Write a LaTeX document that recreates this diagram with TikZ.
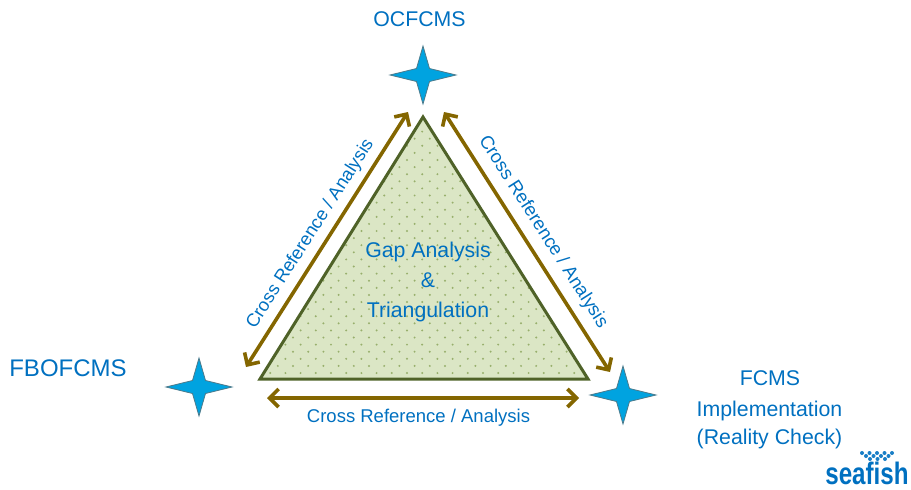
\documentclass[tikz,border=0pt]{standalone}
\usepackage{fontspec}
\setmainfont{Liberation Sans}
\usetikzlibrary{arrows.meta}
\definecolor{txtblue}{HTML}{0070C0}
\definecolor{starblue}{HTML}{00A3E0}
\definecolor{arrowbrown}{HTML}{846600}
\definecolor{triline}{HTML}{4F6228}
\definecolor{trifill}{HTML}{DBE6C5}
\definecolor{tridot}{HTML}{98AF6C}
\newcommand{\fourstar}[1]{%
  \path[starshape,shift={(#1)}] (0,-29) -- (6.5,-6.5) -- (33,0) -- (6.5,6.5) -- (0,29) -- (-6.5,6.5) -- (-33,0) -- (-6.5,-6.5) -- cycle;}
\tikzset{
  starshape/.style={fill=starblue,draw=black!60!starblue!70!white,line width=0.8pt,line join=miter},
  lbl/.style={text=txtblue,font=\fontsize{21.3}{25}\selectfont,inner sep=0pt,anchor=center},
  xref/.style={text=txtblue,font=\fontsize{18.6}{23}\selectfont,inner sep=0pt,anchor=center},
  dbl/.style={draw=arrowbrown,line width=3.6pt,{Straight Barb[length=9pt,width=18pt,line width=3.6pt]}-{Straight Barb[length=9pt,width=18pt,line width=3.6pt]}},
}
\begin{document}
\begin{tikzpicture}[x=1pt,y=-1pt]
\useasboundingbox (0,0) rectangle (911,490);
% triangle
\coordinate (apex) at (423,117);
\coordinate (bl) at (260,379);
\coordinate (br) at (588,379);
\fill[trifill] (apex) -- (br) -- (bl) -- cycle;
\begin{scope}
  \clip (apex) -- (br) -- (bl) -- cycle;
  \foreach \r in {0,...,37}{
    \pgfmathsetmacro{\yy}{373-7.1*\r}
    \pgfmathsetmacro{\off}{mod(\r,2)*7.6}
    \foreach \c in {0,...,22}{
      \fill[tridot] ({255+\off+15.2*\c},\yy) circle (1.1pt);
    }
  }
\end{scope}
\draw[triline,line width=3pt,line join=miter] (apex) -- (br) -- (bl) -- cycle;
% stars
\fourstar{423,75}
\fourstar{199,387}
\fourstar{623,395}
% arrow ends
\coordinate (a1) at (408,112);
\coordinate (a2) at (246,367);
\coordinate (b1) at (444,112);
\coordinate (b2) at (610,372);
\coordinate (c1) at (267,398);
\coordinate (c2) at (579,398);
\draw[dbl] (a1) -- (a2);
\draw[dbl] (b1) -- (b2);
\draw[dbl] (c1) -- (c2);
% texts
\node[lbl] (top) at (419.5,19) {OCFCMS};
\node[lbl,font=\fontsize{24}{25}\selectfont] (left) at (68,368) {FBOFCMS};
\node[lbl] (r1) at (770,378) {FCMS};
\node[lbl] (r2) at (769.5,411) {Implementation};
\node[lbl] (r3) at (769.5,439) {(Reality Check)};
\node[lbl] (g1) at (428,252) {Gap Analysis};
\node[lbl] (g2) at (428,280) {\&};
\node[lbl] (g3) at (428,312) {Triangulation};
\node[xref,rotate=57.4,font=\fontsize{18.3}{23}\selectfont] (x1) at (310.5,234) {Cross Reference / Analysis};
\node[xref,rotate=-57.4] (x2) at (543,232) {Cross Reference / Analysis};
\node[xref,font=\fontsize{18.5}{22}\selectfont] (x3) at (418.5,418) {Cross Reference / Analysis};
% logo
\node[inner sep=0pt,text=txtblue,font=\fontsize{31}{32}\selectfont\bfseries,xscale=0.78,anchor=center] (logo) at (867,473) {seafish};
\foreach \r/\xa/\n in {0/862/5,1/866/4,2/870/3}{
  \foreach \c in {1,...,\n}{
    \fill[txtblue!90!white] ({\xa+(\c-1)*7.5},{453+\r*3}) circle (2pt);
  }
}
\end{tikzpicture}
\end{document}
